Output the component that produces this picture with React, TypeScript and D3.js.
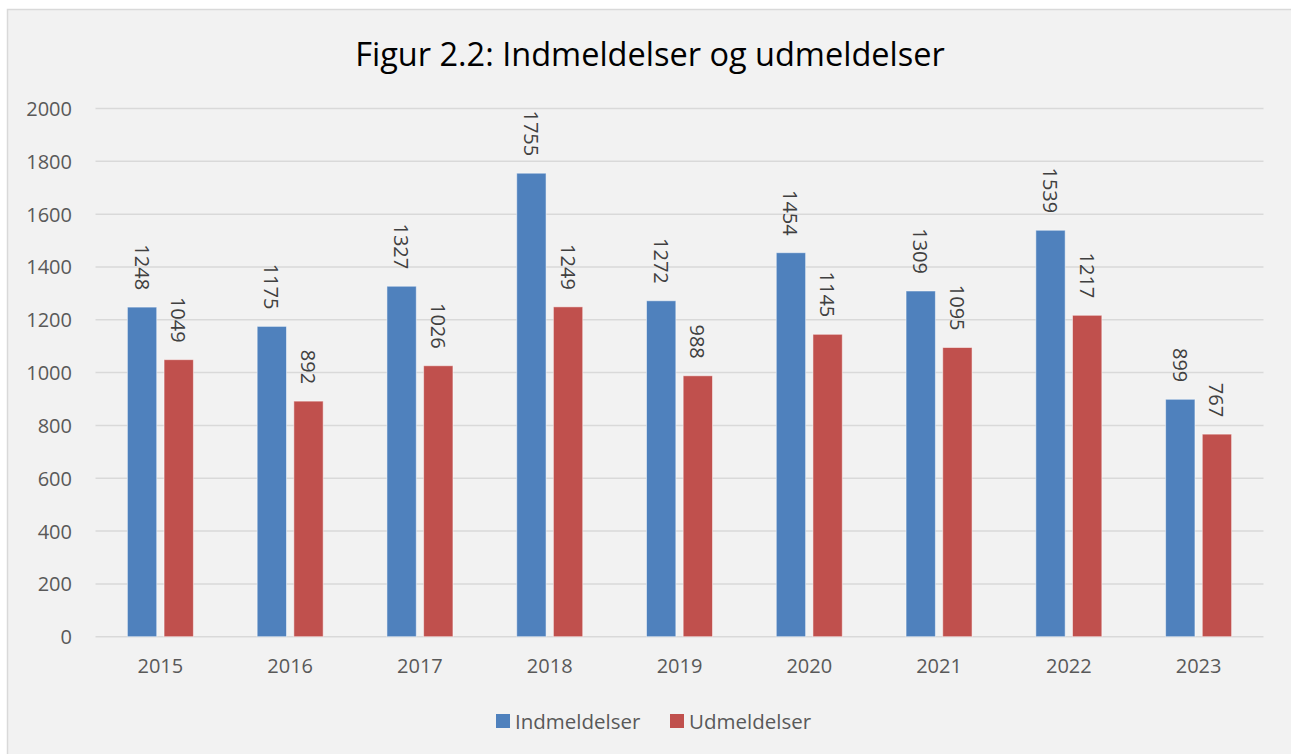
import React from "react";
import * as d3 from "d3";

const years = ["2015", "2016", "2017", "2018", "2019", "2020", "2021", "2022", "2023"];
const indmeldelser = [1248, 1175, 1327, 1755, 1272, 1454, 1309, 1539, 899];
const udmeldelser = [1049, 892, 1026, 1249, 988, 1145, 1095, 1217, 767];
const yTicks = [0, 200, 400, 600, 800, 1000, 1200, 1400, 1600, 1800, 2000];
const seriesNames = ["Indmeldelser", "Udmeldelser"];
const seriesColors = ["#4f81bd", "#c0504d"];
const title = "Figur 2.2: Indmeldelser og udmeldelser";

export default function App() {
  const W = 1291, H = 754;
  const font = "'Open Sans', sans-serif";
  const x = d3.scaleBand<string>().domain(years).range([95.5, 1263.5]).paddingInner(0).paddingOuter(0);
  const y = d3.scaleLinear().domain([0, 2000]).range([636.7, 108.5]);
  const x1 = d3.scaleBand<string>().domain(seriesNames).range([-33, 33]).paddingInner(0.2).paddingOuter(0);
  const seriesData = [indmeldelser, udmeldelser];

  return (
    <svg width={W} height={H} style={{ position: "absolute", left: 0, top: 0 }} fontFamily={font}>
      <rect x={0} y={0} width={W} height={H} fill="#ffffff" />
      <rect x={7.5} y={9.5} width={W + 10} height={H + 10} fill="#f2f2f2" stroke="#d9d9d9" strokeWidth={1.5} />
      <text x={650} y={65.5} textAnchor="middle" fontSize={32.5} fill="#000">{title}</text>
      {yTicks.map((t) => (
        <g key={t}>
          <line x1={95.5} x2={1263.5} y1={y(t)} y2={y(t)} stroke="#d9d9d9" strokeWidth={1.5} />
          <text x={72} y={y(t)} textAnchor="end" dominantBaseline="central" fontSize={20} fill="#595959">{t}</text>
        </g>
      ))}
      {years.map((yr, i) => {
        const cx = (x(yr) as number) + x.bandwidth() / 2;
        return (
          <g key={yr}>
            {seriesNames.map((s, j) => {
              const v = seriesData[j][i];
              const bx = cx + (x1(s) as number);
              const bw = x1.bandwidth();
              const top = y(v);
              const lx = bx + bw / 2;
              const ly = top - 17;
              return (
                <g key={s}>
                  <rect x={bx} y={top} width={bw} height={y(0) - top} fill={seriesColors[j]} stroke="rgba(255,255,255,0.5)" strokeWidth={1} />
                  <text transform={`translate(${lx},${ly}) rotate(90)`} textAnchor="end" dominantBaseline="central" fontSize={20} fill="#404040">{v}</text>
                </g>
              );
            })}
            <text x={cx} y={665} textAnchor="middle" dominantBaseline="central" fontSize={20} fill="#595959">{yr}</text>
          </g>
        );
      })}
      <g>
        <rect x={496} y={714} width={14} height={14} fill={seriesColors[0]} />
        <text x={515} y={721} dominantBaseline="central" fontSize={20.5} fill="#595959">{seriesNames[0]}</text>
        <rect x={670} y={714} width={14} height={14} fill={seriesColors[1]} />
        <text x={689} y={721} dominantBaseline="central" fontSize={20.5} fill="#595959">{seriesNames[1]}</text>
      </g>
    </svg>
  );
}
